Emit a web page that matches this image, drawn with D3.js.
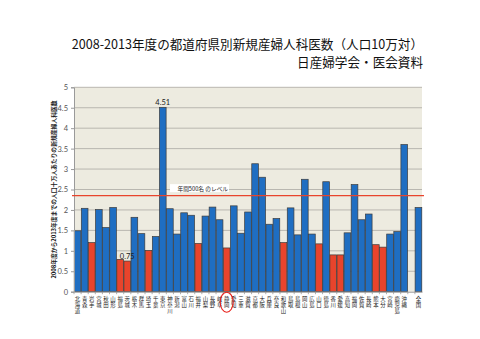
<!DOCTYPE html>
<html>
<head>
<meta charset="utf-8">
<script src="https://cdn.jsdelivr.net/npm/d3@7"></script>
<style>
  html, body { margin: 0; padding: 0; background: #fff; }
  svg { display: block; }
</style>
</head>
<body>
<svg id="chart" width="480" height="339"></svg>
<script>
// ---- data ----
const prefectures = ["北海道","青森","岩手","宮城","秋田","山形","福島","茨城","栃木","群馬","埼玉","千葉","東京","神奈川","新潟","富山","石川","福井","山梨","長野","岐阜","静岡","愛知","三重","滋賀","京都","大阪","兵庫","奈良","和歌山","鳥取","島根","岡山","広島","山口","徳島","香川","愛媛","高知","福岡","佐賀","長崎","熊本","大分","宮崎","鹿児島","沖縄"];
const values = [1.49,2.04,1.20,2.01,1.57,2.06,0.79,0.75,1.82,1.42,1.01,1.35,4.51,2.03,1.41,1.93,1.87,1.18,1.85,2.07,1.76,1.07,2.10,1.43,1.95,3.13,2.80,1.65,1.79,1.20,2.05,1.39,2.75,1.41,1.17,2.69,0.90,0.90,1.44,2.62,1.76,1.90,1.15,1.09,1.41,1.47,3.60];
const nationalLabel = "全国";
const nationalValue = 2.06;
const redCategories = ["岩手","福島","茨城","埼玉","福井","静岡","和歌山","山口","香川","愛媛","熊本","大分"];
const labeledCategories = ["茨城","東京"];
const circledCategory = "静岡";
const refValue = 2.35;
const refLabel = "年間500名 のレベル";
const yTicks = [0,0.5,1,1.5,2,2.5,3,3.5,4,4.5,5];
const titleLine1 = "2008-2013年度の都道府県別新規産婦人科医数（人口10万対）";
const titleLine2 = "日産婦学会・医会資料";
const yTitle = "2008年度から2013年度までの人口十万人あたりの新規産婦人科医数";

(function(){
// ---- build table ----
const gapKey = " ";
const categories = [...prefectures, gapKey, nationalLabel];
const table = prefectures.map((p,i) => ({cat: p, v: values[i]}));
table.push({cat: nationalLabel, v: nationalValue});

const svg = d3.select("#chart");
const W = 480, H = 339;
const mLeft = 74, mRight = 422, mTop = 87.3, mBottom = 291.7;

const x = d3.scaleBand().domain(categories).range([mLeft, mRight]).paddingInner(0.06).paddingOuter(0.03);
const y = d3.scaleLinear().domain([0,5]).range([mBottom, mTop]);

const jp = "'Noto Sans CJK JP', sans-serif";

// background
svg.append("rect").attr("x",0).attr("y",0).attr("width",W).attr("height",H).attr("fill","#fff");
svg.append("rect").attr("x",mLeft).attr("y",y(5)).attr("width",mRight-mLeft).attr("height",y(0)-y(5)).attr("fill","#EDEBE0");

// gridlines
svg.append("g").selectAll("line").data(yTicks.filter(d=>d>0)).join("line")
  .attr("x1",mLeft).attr("x2",mRight).attr("y1",d=>y(d)).attr("y2",d=>y(d))
  .attr("stroke","#B9B7B0").attr("stroke-width",1);

// bars
svg.append("g").selectAll("rect").data(table).join("rect")
  .attr("x",d=>x(d.cat)).attr("width",x.bandwidth())
  .attr("y",d=>y(d.v)).attr("height",d=>y(0)-y(d.v))
  .attr("fill",d=>redCategories.includes(d.cat) ? "#E8442C" : "#1F6EC2")
  .attr("stroke","#3C3C3C").attr("stroke-width",0.7);

// value labels
svg.append("g").selectAll("text").data(table.filter(d=>labeledCategories.includes(d.cat))).join("text")
  .attr("x",d=>x(d.cat)+x.bandwidth()/2).attr("y",d=>y(d.v)-2.5)
  .attr("text-anchor","middle").attr("font-family","Lato, sans-serif").attr("font-size",7.5).attr("fill","#222")
  .text(d=>d.v.toFixed(2));

// y axis
const yAxis = svg.append("g").attr("transform",`translate(${mLeft},0)`)
  .call(d3.axisLeft(y).tickValues(yTicks).tickSize(3).tickPadding(3).tickFormat(d=>String(d)));
yAxis.select(".domain").attr("stroke","#9A9A9A");
yAxis.selectAll(".tick line").attr("stroke","#9A9A9A");
yAxis.selectAll(".tick text").attr("font-family","Lato, sans-serif").attr("font-size",7.5).attr("fill","#555");

// x axis (stacked vertical characters)
const xAxis = svg.append("g").attr("transform",`translate(0,${mBottom})`)
  .call(d3.axisBottom(x).tickSize(0).tickPadding(0).tickFormat(d=>d));
xAxis.select(".domain").attr("stroke","#9A9A9A");
xAxis.selectAll(".tick text").each(function(d){
  const t = d3.select(this);
  t.text(null).attr("y",0).attr("dy",null)
    .attr("font-family",jp).attr("font-size",5.4).attr("fill","#222");
  Array.from(d.trim()).forEach((c,i)=>{
    t.append("tspan").attr("x",0).attr("y",9 + i*6.2).text(c);
  });
});

// category separator ticks
const step = x.step();
svg.append("g").selectAll("line").data(categories).join("line")
  .attr("x1",d=>x(d)-step*x.paddingInner()/2).attr("x2",d=>x(d)-step*x.paddingInner()/2)
  .attr("y1",mBottom).attr("y2",mBottom+2.5).attr("stroke","#9A9A9A").attr("stroke-width",0.8);

// reference line
svg.append("line").attr("x1",mLeft-2).attr("x2",mRight+2).attr("y1",y(refValue)).attr("y2",y(refValue))
  .attr("stroke","#E8442C").attr("stroke-width",1.4);
svg.append("rect").attr("x",170).attr("y",y(refValue)-11.5).attr("width",59).attr("height",8).attr("fill","#fff");
svg.append("text").attr("x",177.5).attr("y",y(refValue)-5)
  .attr("font-family",jp).attr("font-size",5.7).attr("fill","#222").text(refLabel);

// circle around label
svg.append("ellipse").attr("cx",x(circledCategory)+x.bandwidth()/2).attr("cy",mBottom+10.5)
  .attr("rx",6.5).attr("ry",10).attr("fill","none").attr("stroke","#E8201A").attr("stroke-width",1.1);

// y title
svg.append("text").attr("transform",`translate(56,${(mTop+mBottom)/2}) rotate(-90)`)
  .attr("text-anchor","middle").attr("font-family",jp).attr("font-size",5.8).attr("font-weight","bold").attr("fill","#222")
  .text(yTitle);

// titles
svg.append("text").attr("x",423).attr("y",48.5).attr("text-anchor","end")
  .attr("font-family",jp).attr("font-size",12.6).attr("fill","#111").text(titleLine1);
svg.append("text").attr("x",423).attr("y",66.5).attr("text-anchor","end")
  .attr("font-family",jp).attr("font-size",12.6).attr("fill","#111").text(titleLine2);
})();
</script>
</body>
</html>
